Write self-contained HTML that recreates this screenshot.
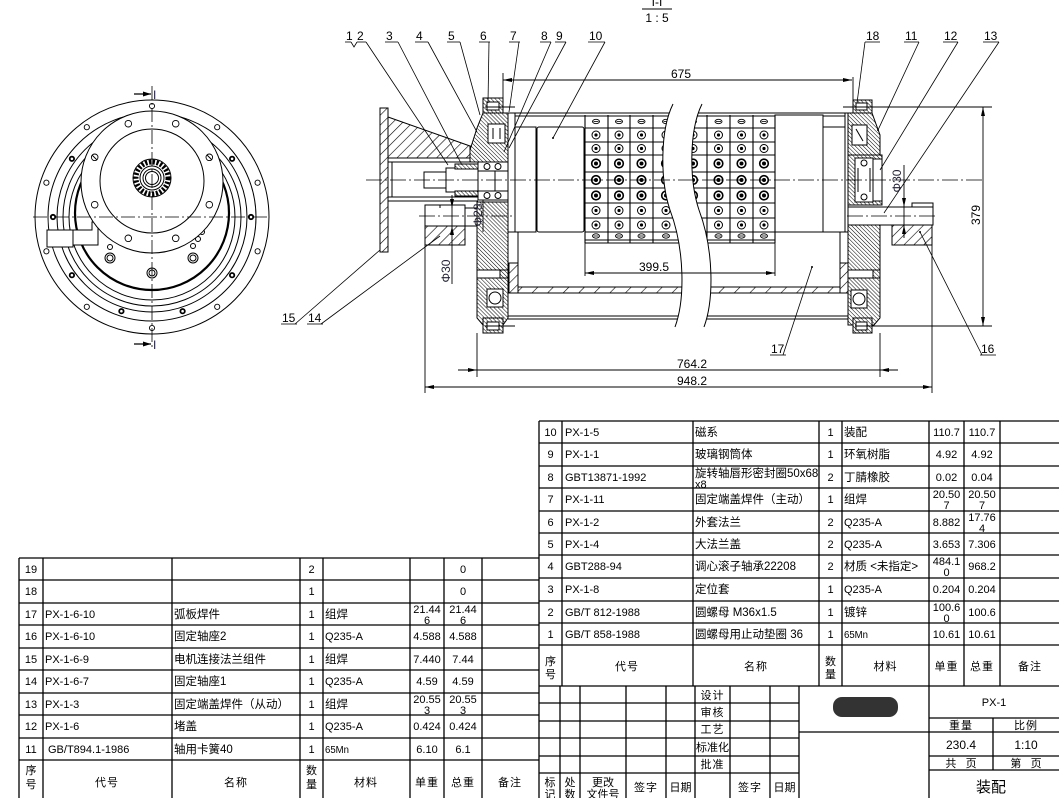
<!DOCTYPE html>
<html><head><meta charset="utf-8">
<style>
html,body{margin:0;padding:0;background:#fff;}
svg{display:block;}
text{font-family:"Liberation Sans","Noto Sans CJK SC",sans-serif;fill:#000;}
.c{text-anchor:middle;}
.t{font-size:11px;}
.z{font-size:11.5px;}
.s{font-size:10.5px;}
</style></head><body>
<svg width="1059" height="798" viewBox="0 0 1059 798" xmlns="http://www.w3.org/2000/svg">
<defs>
<pattern id="h1" patternUnits="userSpaceOnUse" width="7" height="7" patternTransform="rotate(45)"><rect width="7" height="7" fill="#fff"/><line x1="0" y1="0" x2="0" y2="7" stroke="#000" stroke-width="1.2"/></pattern>
<pattern id="h2" patternUnits="userSpaceOnUse" width="2.8" height="2.8" patternTransform="rotate(-45)"><rect width="2.8" height="2.8" fill="#fff"/><line x1="0" y1="0" x2="0" y2="2.8" stroke="#000" stroke-width="1"/></pattern>
<pattern id="h3" patternUnits="userSpaceOnUse" width="11" height="11" patternTransform="rotate(45)"><rect width="11" height="11" fill="#fff"/><line x1="0" y1="0" x2="0" y2="11" stroke="#000" stroke-width="1.2"/></pattern>
<g id="c1"><ellipse rx="3.5" ry="2.2" fill="none" stroke="#000" stroke-width="0.9"/><line x1="-2.5" y1="0" x2="2.5" y2="0" stroke="#000" stroke-width="0.8"/></g>
<g id="c2"><circle r="4" fill="none" stroke="#000" stroke-width="1"/><circle r="1.6" fill="#000"/></g>
<g id="c3"><circle r="4.3" fill="none" stroke="#000" stroke-width="1.6"/><circle r="2" fill="#000"/></g>
</defs>
<rect width="1059" height="798" fill="#fff"/>

<!-- ================= CIRCLE VIEW ================= -->
<g stroke="#000" fill="none" stroke-width="1">
 <circle cx="152" cy="217" r="117"/>
 <circle cx="152" cy="217" r="104"/>
 <circle cx="152" cy="217" r="95"/>
 <circle cx="152" cy="217" r="89"/>
 <circle cx="152" cy="217" r="83"/>
 <g stroke-width="0.9">
  <circle cx="152" cy="106" r="2.6"/><circle cx="217.2" cy="127.2" r="2.6"/><circle cx="257.6" cy="182.7" r="2.6"/><circle cx="257.6" cy="251.3" r="2.6"/><circle cx="217.2" cy="306.8" r="2.6"/><circle cx="152" cy="328" r="2.6"/><circle cx="86.8" cy="306.8" r="2.6"/><circle cx="46.4" cy="251.3" r="2.6"/><circle cx="46.4" cy="182.7" r="2.6"/><circle cx="86.8" cy="127.2" r="2.6"/>
 </g>
 <g stroke-width="1.8">
  <circle cx="251" cy="217" r="2.2"/><circle cx="232.1" cy="158.8" r="2.2"/><circle cx="71.9" cy="158.8" r="2.2"/><circle cx="53" cy="217" r="2.2"/><circle cx="71.9" cy="275.2" r="2.2"/><circle cx="121.4" cy="311.2" r="2.2"/><circle cx="182.6" cy="311.2" r="2.2"/><circle cx="232.1" cy="275.2" r="2.2"/>
 </g>
 <circle cx="152" cy="213" r="77" stroke-width="2.2"/>
 <circle cx="110" cy="247" r="2.5"/>
 <circle cx="110" cy="258" r="5"/><circle cx="110" cy="258" r="3"/>
 <circle cx="193" cy="258" r="5"/><circle cx="193" cy="258" r="3"/>
 <circle cx="152" cy="273" r="5"/><circle cx="152" cy="273" r="3"/>
 <circle cx="193" cy="246" r="2.5"/><circle cx="198" cy="239" r="2.5"/><circle cx="202" cy="232" r="2.5"/>
 <path d="M47,230 H92 V222 H98 V245 H73 V247 H47 Z" fill="#fff"/>
 <line x1="73" y1="230" x2="73" y2="245"/>
 <circle cx="152" cy="182" r="71" fill="#fff"/>
 <g stroke-width="0.9">
  <circle cx="209.3" cy="157.3" r="3.3"/><circle cx="175.7" cy="123.7" r="3.3"/><circle cx="128.3" cy="123.7" r="3.3"/><circle cx="94.7" cy="157.3" r="3.3"/><circle cx="94.7" cy="204.7" r="3.3"/><circle cx="128.3" cy="238.3" r="3.3"/><circle cx="175.7" cy="238.3" r="3.3"/><circle cx="209.3" cy="204.7" r="3.3"/>
  <line x1="92" y1="155" x2="97" y2="160"/><line x1="207" y1="155" x2="212" y2="160"/>
 </g>
 <circle cx="152" cy="181" r="52"/>
 <circle cx="152" cy="178" r="19"/>
 <circle cx="152" cy="178" r="16" stroke-width="5" stroke-dasharray="2.2 1.6"/>
 <circle cx="152" cy="178" r="12" fill="#fff"/>
 <circle cx="152" cy="178" r="9"/>
 <circle cx="152" cy="178" r="6.5"/>
 <g stroke-width="0.8" stroke-dasharray="14 3 2 3">
  <line x1="33" y1="217" x2="269" y2="217"/>
  <line x1="152" y1="86" x2="152" y2="349"/>
 </g>
 <line x1="134" y1="94" x2="151" y2="94" stroke-width="1.2"/>
 <line x1="134" y1="344" x2="151" y2="344" stroke-width="1.2"/>
</g>
<polygon points="143,91.5 151,94 143,96.5" fill="#000"/>
<polygon points="143,341.5 151,344 143,346.5" fill="#000"/>
<text x="153" y="99" font-size="12" style="fill:#224">I</text>
<text x="153" y="349" font-size="12" style="fill:#224">I</text>

<!-- ================= SECTION VIEW ================= -->
<text x="657" y="6" class="c" font-size="12">I-I</text>
<line x1="642" y1="9" x2="672" y2="9" stroke="#000" stroke-width="1"/>
<text x="657" y="22" class="c" font-size="12">1 : 5</text>

<g stroke="#000" stroke-width="1" fill="none">
 <!-- motor flange 15 -->
 <rect x="380" y="108" width="8" height="144" fill="url(#h1)"/>
 <path d="M388,117 L470,146 L470,158 L388,158 Z" fill="url(#h1)"/>
 <rect x="470" y="146" width="8" height="12" fill="#fff"/>
 <line x1="388" y1="158" x2="478" y2="158"/>
 <line x1="388" y1="162" x2="478" y2="162"/>
 <line x1="388" y1="197" x2="478" y2="197"/>
 <line x1="388" y1="201" x2="478" y2="201"/>
 <line x1="392" y1="162" x2="392" y2="197"/>
 <!-- motor shaft -->
 <rect x="424" y="172" width="22" height="16" fill="#fff"/>
 <rect x="446" y="168" width="32" height="24" fill="#fff"/>
 <rect x="455" y="164" width="23" height="5" fill="url(#h2)"/>
 <rect x="455" y="191" width="23" height="5" fill="url(#h2)"/>
 <line x1="446" y1="168" x2="446" y2="192"/>
 <!-- bearing seat 14 -->
 <rect x="425" y="205" width="40" height="40" fill="#fff"/>
 <rect x="425" y="226" width="40" height="19" fill="url(#h1)"/>
 <line x1="465" y1="208" x2="510" y2="208"/>
 <line x1="465" y1="226" x2="510" y2="226"/>
 <line x1="440" y1="205" x2="440" y2="208"/><line x1="452" y1="205" x2="452" y2="208"/>
 <!-- left end cap -->
 <rect x="483" y="98" width="20" height="15" fill="url(#h2)"/>
 <rect x="487" y="102" width="12" height="8" fill="#fff"/>
 <path d="M470,150 L477,128 L483,113 L508,113 L508,162 L470,162 Z" fill="url(#h2)"/>
 <rect x="488" y="124" width="17" height="19" fill="#fff"/>
 <line x1="493" y1="128" x2="493" y2="139"/><line x1="500" y1="128" x2="500" y2="139"/>
 <rect x="478" y="162" width="30" height="9" fill="#fff"/>
 <rect x="478" y="191" width="30" height="9" fill="#fff"/>
 <circle cx="487" cy="166.5" r="3"/><circle cx="498" cy="166.5" r="3"/>
 <circle cx="487" cy="195.5" r="3"/><circle cx="498" cy="195.5" r="3"/>
 <rect x="495" y="171" width="20" height="20" fill="#fff"/>
 <path d="M477,202 L508,202 L508,270 L477,270 Z" fill="url(#h2)"/>
 <rect x="477" y="270" width="31" height="8" fill="#fff"/>
 <rect x="500" y="270" width="8" height="8" fill="url(#h2)"/>
 <path d="M477,278 L508,278 L508,318 L503,325 L483,325 L477,318 Z" fill="url(#h2)"/>
 <rect x="487" y="289" width="16" height="18" fill="#fff"/>
 <circle cx="495" cy="298" r="6"/>
 <rect x="483" y="318" width="20" height="15" fill="url(#h2)"/>
 <rect x="487" y="322" width="12" height="8" fill="#fff"/>
 <line x1="485" y1="107" x2="515" y2="107"/>
 <line x1="485" y1="326" x2="515" y2="326"/>
 <!-- drum -->
 <line x1="508" y1="113" x2="848" y2="113"/>
 <line x1="508" y1="116" x2="848" y2="116"/>
 <rect x="508" y="113" width="7" height="119" fill="#fff"/>
 <rect x="515" y="127" width="21" height="105" fill="#fff"/>
 <rect x="537" y="127" width="47" height="105" rx="2" fill="#fff"/>
 <rect x="775" y="115" width="48" height="117" fill="#fff"/>
 <rect x="823" y="127" width="22" height="105" fill="#fff"/>
 <rect x="845" y="113" width="3" height="119" fill="#fff"/>
 <line x1="518" y1="232" x2="518" y2="293"/>
 <rect x="509" y="263" width="9" height="30" fill="url(#h1)"/>
 <line x1="840" y1="232" x2="840" y2="293"/>
 <rect x="840" y="263" width="8" height="30" fill="url(#h1)"/>
 <rect x="518" y="287" width="322" height="6" fill="url(#h3)"/>
 <line x1="508" y1="316" x2="848" y2="316"/>
 <line x1="508" y1="319" x2="848" y2="319"/>
 <!-- grid -->
 <g stroke-width="1.1">
  <line x1="585" y1="115" x2="585" y2="243"/><line x1="608" y1="115" x2="608" y2="243"/><line x1="630" y1="115" x2="630" y2="243"/><line x1="653" y1="115" x2="653" y2="243"/><line x1="679" y1="115" x2="679" y2="243"/><line x1="707" y1="115" x2="707" y2="243"/><line x1="730" y1="115" x2="730" y2="243"/><line x1="753" y1="115" x2="753" y2="243"/><line x1="775" y1="115" x2="775" y2="243"/>
  <line x1="585" y1="128" x2="775" y2="128"/><line x1="585" y1="142" x2="775" y2="142"/><line x1="585" y1="155" x2="775" y2="155"/><line x1="585" y1="172" x2="775" y2="172"/><line x1="585" y1="188" x2="775" y2="188"/><line x1="585" y1="203" x2="775" y2="203"/><line x1="585" y1="218" x2="775" y2="218"/><line x1="585" y1="232" x2="775" y2="232"/><line x1="585" y1="243" x2="775" y2="243"/><line x1="585" y1="240" x2="775" y2="240"/>
 </g>
</g>
<g>
 <g transform="translate(0,121.5)"><use href="#c1" x="596"/><use href="#c1" x="619"/><use href="#c1" x="641.5"/><use href="#c1" x="666"/><use href="#c1" x="693"/><use href="#c1" x="718.5"/><use href="#c1" x="741.5"/><use href="#c1" x="764"/></g>
 <g transform="translate(0,135)"><use href="#c2" x="596"/><use href="#c2" x="619"/><use href="#c2" x="641.5"/><use href="#c2" x="666"/><use href="#c2" x="693"/><use href="#c2" x="718.5"/><use href="#c2" x="741.5"/><use href="#c2" x="764"/></g>
 <g transform="translate(0,148.5)"><use href="#c2" x="596"/><use href="#c2" x="619"/><use href="#c2" x="641.5"/><use href="#c2" x="666"/><use href="#c2" x="693"/><use href="#c2" x="718.5"/><use href="#c2" x="741.5"/><use href="#c2" x="764"/></g>
 <g transform="translate(0,163.5)"><use href="#c3" x="596"/><use href="#c3" x="619"/><use href="#c3" x="641.5"/><use href="#c3" x="666"/><use href="#c3" x="693"/><use href="#c3" x="718.5"/><use href="#c3" x="741.5"/><use href="#c3" x="764"/></g>
 <g transform="translate(0,180)"><use href="#c3" x="596"/><use href="#c3" x="619"/><use href="#c3" x="641.5"/><use href="#c3" x="666"/><use href="#c3" x="693"/><use href="#c3" x="718.5"/><use href="#c3" x="741.5"/><use href="#c3" x="764"/></g>
 <g transform="translate(0,195.5)"><use href="#c3" x="596"/><use href="#c3" x="619"/><use href="#c3" x="641.5"/><use href="#c3" x="666"/><use href="#c3" x="693"/><use href="#c3" x="718.5"/><use href="#c3" x="741.5"/><use href="#c3" x="764"/></g>
 <g transform="translate(0,210.5)"><use href="#c2" x="596"/><use href="#c2" x="619"/><use href="#c2" x="641.5"/><use href="#c2" x="666"/><use href="#c2" x="693"/><use href="#c2" x="718.5"/><use href="#c2" x="741.5"/><use href="#c2" x="764"/></g>
 <g transform="translate(0,225)"><use href="#c2" x="596"/><use href="#c2" x="619"/><use href="#c2" x="641.5"/><use href="#c2" x="666"/><use href="#c2" x="693"/><use href="#c2" x="718.5"/><use href="#c2" x="741.5"/><use href="#c2" x="764"/></g>
 <g transform="translate(0,236)"><use href="#c1" x="596"/><use href="#c1" x="619"/><use href="#c1" x="641.5"/><use href="#c1" x="666"/><use href="#c1" x="693"/><use href="#c1" x="718.5"/><use href="#c1" x="741.5"/><use href="#c1" x="764"/></g>
</g>
<!-- break -->
<path d="M673,104 C660,130 660,180 670,210 C685,250 685,300 675,327 L704,327 C714,300 714,250 699,210 C689,180 689,130 702,104 Z" fill="#fff"/>
<g stroke="#000" stroke-width="1" fill="none">
 <path d="M673,104 C660,130 660,180 670,210 C685,250 685,300 675,327"/>
 <path d="M702,104 C689,130 689,180 699,210 C714,250 714,300 704,327"/>
 <!-- right end cap -->
 <rect x="853" y="100" width="19" height="13" fill="url(#h2)"/>
 <rect x="856" y="103" width="11" height="7" fill="#fff"/>
 <path d="M848,113 L872,113 L880,135 L880,155 L848,155 Z" fill="url(#h2)"/>
 <rect x="852" y="125" width="15" height="20" fill="#fff"/>
 <line x1="856" y1="129" x2="863" y2="141"/>
 <rect x="848" y="155" width="34" height="50" fill="url(#h2)"/>
 <rect x="855" y="158" width="18" height="44" fill="#fff"/>
 <rect x="873" y="159" width="9" height="42" fill="#fff"/>
 <circle cx="864" cy="163" r="3"/><circle cx="864" cy="197" r="3"/>
 <line x1="858" y1="168" x2="858" y2="192"/><line x1="870" y1="168" x2="870" y2="192"/>
 <rect x="848" y="207" width="85" height="18" fill="#fff"/>
 <rect x="912" y="203" width="21" height="4" fill="#fff"/>
 <rect x="892" y="225" width="40" height="20" fill="url(#h1)"/>
 <path d="M848,225 L880,225 L880,270 L848,270 Z" fill="url(#h2)"/>
 <rect x="848" y="270" width="32" height="8" fill="#fff"/>
 <rect x="873" y="270" width="7" height="8" fill="url(#h2)"/>
 <path d="M848,278 L880,278 L880,318 L874,325 L848,325 Z" fill="url(#h2)"/>
 <rect x="851" y="290" width="16" height="18" fill="#fff"/>
 <circle cx="859" cy="299" r="6"/>
 <rect x="853" y="318" width="19" height="15" fill="url(#h2)"/>
 <rect x="856" y="322" width="11" height="8" fill="#fff"/>
 <!-- center lines -->
 <g stroke-width="0.8" stroke-dasharray="16 3 2 3">
  <line x1="366" y1="180" x2="985" y2="180"/>
  <line x1="419" y1="216" x2="512" y2="216"/>
  <line x1="847" y1="216" x2="938" y2="216"/>
 </g>
 <!-- dimension / extension lines -->
 <g stroke-width="0.9">
  <line x1="503" y1="80" x2="852" y2="80"/>
  <line x1="503" y1="73" x2="503" y2="108"/>
  <line x1="853" y1="77" x2="853" y2="110"/>
  <line x1="585" y1="273" x2="775" y2="273"/>
  <line x1="585" y1="243" x2="585" y2="276"/>
  <line x1="775" y1="232" x2="775" y2="276"/>
  <line x1="458" y1="370" x2="898" y2="370"/>
  <line x1="477" y1="333" x2="477" y2="377"/>
  <line x1="880" y1="333" x2="880" y2="377"/>
  <line x1="425" y1="387" x2="932" y2="387"/>
  <line x1="425" y1="245" x2="425" y2="393"/>
  <line x1="932" y1="245" x2="932" y2="393"/>
  <line x1="983" y1="107" x2="983" y2="326"/>
  <line x1="843" y1="107" x2="992" y2="107"/>
  <line x1="855" y1="326" x2="992" y2="326"/>
  <line x1="452" y1="195" x2="452" y2="284"/>
  <line x1="904" y1="165" x2="904" y2="238"/>
  <line x1="483" y1="200" x2="483" y2="232"/>
 </g>
 <!-- leaders -->
 <g stroke-width="0.8">
  <line x1="345" y1="42" x2="351" y2="42"/><polyline points="351,42 354,47 357,42"/><line x1="357" y1="42" x2="366" y2="42"/>
  <line x1="366" y1="42" x2="448" y2="165"/>
  <line x1="385" y1="42" x2="398" y2="42"/><line x1="398" y1="42" x2="462" y2="165"/>
  <line x1="415" y1="42" x2="428" y2="42"/><line x1="428" y1="42" x2="477" y2="132"/>
  <line x1="447" y1="42" x2="460" y2="42"/><line x1="460" y1="42" x2="480" y2="115"/>
  <line x1="479" y1="42" x2="490" y2="42"/><line x1="489" y1="42" x2="488" y2="103"/>
  <line x1="509" y1="42" x2="520" y2="42"/><line x1="519" y1="42" x2="509" y2="112"/>
  <line x1="540" y1="42" x2="551" y2="42"/><line x1="551" y1="42" x2="504" y2="152"/>
  <line x1="555" y1="42" x2="566" y2="42"/><line x1="566" y1="42" x2="509" y2="148"/>
  <line x1="588" y1="42" x2="605" y2="42"/><line x1="605" y1="42" x2="553" y2="138"/>
  <line x1="865" y1="42" x2="880" y2="42"/><line x1="865" y1="42" x2="857" y2="103"/>
  <line x1="904" y1="42" x2="919" y2="42"/><line x1="919" y1="42" x2="878" y2="130"/>
  <line x1="943" y1="42" x2="958" y2="42"/><line x1="958" y1="42" x2="880" y2="170"/>
  <line x1="983" y1="42" x2="999" y2="42"/><line x1="999" y1="42" x2="884" y2="213"/>
  <line x1="980" y1="355" x2="996" y2="355"/><line x1="982" y1="355" x2="920" y2="232"/>
  <line x1="770" y1="355" x2="786" y2="355"/><line x1="783" y1="355" x2="812" y2="267"/>
  <line x1="281" y1="324" x2="297" y2="324"/><line x1="295" y1="324" x2="380" y2="250"/>
  <line x1="307" y1="324" x2="323" y2="324"/><line x1="321" y1="324" x2="440" y2="236"/>
 </g>
</g>
<g fill="#000">
 <polygon points="503,80 512,78 512,82"/><polygon points="852,80 843,78 843,82"/>
 <polygon points="585,273 594,271 594,275"/><polygon points="775,273 766,271 766,275"/>
 <polygon points="477,370 468,368 468,372"/><polygon points="880,370 889,368 889,372"/>
 <polygon points="425,387 434,385 434,389"/><polygon points="932,387 923,385 923,389"/>
 <polygon points="983,107 981,116 985,116"/><polygon points="983,326 981,317 985,317"/>
 <polygon points="452,208 450,199 454,199"/><polygon points="452,226 450,235 454,235"/>
 <polygon points="904,207 902,198 906,198"/><polygon points="904,225 902,234 906,234"/>
 <circle cx="553" cy="138" r="1"/><circle cx="812" cy="267" r="1"/><circle cx="920" cy="232" r="1"/><circle cx="878" cy="130" r="1"/>
</g>
<g font-size="12">
 <text x="346" y="40">1</text><text x="357" y="40">2</text>
 <text x="386" y="40">3</text><text x="416" y="40">4</text><text x="448" y="40">5</text>
 <text x="480" y="40">6</text><text x="510" y="40">7</text><text x="541" y="40">8</text>
 <text x="556" y="40">9</text><text x="589" y="40">10</text>
 <text x="866" y="40">18</text><text x="905" y="40">11</text><text x="944" y="40">12</text><text x="984" y="40">13</text>
 <text x="981" y="353">16</text><text x="771" y="353">17</text>
 <text x="282" y="322">15</text><text x="308" y="322">14</text>
 <text x="681" y="78" class="c">675</text>
 <text x="654" y="271" class="c">399.5</text>
 <text x="692" y="368" class="c">764.2</text>
 <text x="692" y="385" class="c">948.2</text>
 <text transform="translate(983,215) rotate(-90)" class="c" y="-3">379</text>
 <text transform="translate(482,215) rotate(-90)" class="c" style="fill:#223">Φ28</text>
 <text transform="translate(452,271) rotate(-90)" class="c" y="-2" style="fill:#223">Φ30</text>
 <text transform="translate(903,181) rotate(-90)" class="c" y="-2" style="fill:#223">Φ30</text>
</g>

<!-- ================= TABLES ================= -->
<g stroke="#000" stroke-width="1.3" fill="none">
 <!-- right table -->
 <path d="M539,421H1059M539,443H1059M539,466H1059M539,488H1059M539,511H1059M539,533H1059M539,555H1059M539,578H1059M539,601H1059M539,623H1059M539,645H1059M539,686H1059"/>
 <path d="M539,421V798M562,421V686M693,421V686M819,421V686M842,421V686M929,421V686M964,421V686M1000,421V686"/>
 <!-- left table -->
 <path d="M19,558H539M19,580H539M19,603H539M19,625H539M19,648H539M19,670H539M19,693H539M19,715H539M19,738H539M19,760H539"/>
 <path d="M19,558V798M43,558V798M172,558V798M300,558V798M323,558V798M410,558V798M444,558V798M482,558V798"/>
 <!-- title block -->
 <path d="M539,703H799M539,721H799M539,738H799M539,756H799M539,773H799"/>
 <path d="M560,686V798M580,686V798M626,686V798M666,686V798M695,686V798M730,686V798M770,686V798M799,686V798M929,686V798M993,718V770"/>
 <path d="M929,718H1059M929,732H1059M799,732H929M929,756H1059M929,770H1059"/>
</g>
<rect x="833" y="697" width="65" height="20" rx="9" fill="#333"/>

<!-- right table text -->
<g class="t">
 <text x="550.5" y="436" class="c">10</text><text x="565" y="436">PX-1-5</text><text x="695" y="436" class="z">磁系</text><text x="830.5" y="436" class="c">1</text><text x="844" y="436" class="z">装配</text><text x="946.5" y="436" class="c">110.7</text><text x="982" y="436" class="c">110.7</text>
 <text x="550.5" y="458" class="c">9</text><text x="565" y="458">PX-1-1</text><text x="695" y="458" class="z">玻璃钢筒体</text><text x="830.5" y="458" class="c">1</text><text x="844" y="458" class="z">环氧树脂</text><text x="946.5" y="458" class="c">4.92</text><text x="982" y="458" class="c">4.92</text>
 <text x="550.5" y="481" class="c">8</text><text x="565" y="481">GBT13871-1992</text><text x="695" y="477" class="z">旋转轴唇形密封圈50x68</text><text x="695" y="488">x8</text><text x="830.5" y="481" class="c">2</text><text x="844" y="481" class="z">丁腈橡胶</text><text x="946.5" y="481" class="c">0.02</text><text x="982" y="481" class="c">0.04</text>
 <text x="550.5" y="503" class="c">7</text><text x="565" y="503">PX-1-11</text><text x="695" y="503" class="z">固定端盖焊件（主动）</text><text x="830.5" y="503" class="c">1</text><text x="844" y="503" class="z">组焊</text><text x="946.5" y="498" class="c">20.50</text><text x="946.5" y="509" class="c">7</text><text x="982" y="498" class="c">20.50</text><text x="982" y="509" class="c">7</text>
 <text x="550.5" y="526" class="c">6</text><text x="565" y="526">PX-1-2</text><text x="695" y="526" class="z">外套法兰</text><text x="830.5" y="526" class="c">2</text><text x="844" y="526">Q235-A</text><text x="946.5" y="526" class="c">8.882</text><text x="982" y="521" class="c">17.76</text><text x="982" y="532" class="c">4</text>
 <text x="550.5" y="548" class="c">5</text><text x="565" y="548">PX-1-4</text><text x="695" y="548" class="z">大法兰盖</text><text x="830.5" y="548" class="c">2</text><text x="844" y="548">Q235-A</text><text x="946.5" y="548" class="c">3.653</text><text x="982" y="548" class="c">7.306</text>
 <text x="550.5" y="570" class="c">4</text><text x="565" y="570">GBT288-94</text><text x="695" y="570" class="z">调心滚子轴承22208</text><text x="830.5" y="570" class="c">2</text><text x="844" y="570" class="z">材质 &lt;未指定&gt;</text><text x="946.5" y="565" class="c">484.1</text><text x="946.5" y="576" class="c">0</text><text x="982" y="570" class="c">968.2</text>
 <text x="550.5" y="593" class="c">3</text><text x="565" y="593">PX-1-8</text><text x="695" y="593" class="z">定位套</text><text x="830.5" y="593" class="c">1</text><text x="844" y="593">Q235-A</text><text x="946.5" y="593" class="c">0.204</text><text x="982" y="593" class="c">0.204</text>
 <text x="550.5" y="616" class="c">2</text><text x="565" y="616">GB/T 812-1988</text><text x="695" y="616" class="z">圆螺母 M36x1.5</text><text x="830.5" y="616" class="c">1</text><text x="844" y="616" class="z">镀锌</text><text x="946.5" y="611" class="c">100.6</text><text x="946.5" y="622" class="c">0</text><text x="982" y="616" class="c">100.6</text>
 <text x="550.5" y="638" class="c">1</text><text x="565" y="638">GB/T 858-1988</text><text x="695" y="638" class="z">圆螺母用止动垫圈 36</text><text x="830.5" y="638" class="c">1</text><text x="844" y="638" font-size="10" textLength="24" lengthAdjust="spacingAndGlyphs">65Mn</text><text x="946.5" y="638" class="c">10.61</text><text x="982" y="638" class="c">10.61</text>
 <text x="550.5" y="665" class="c">序</text><text x="550.5" y="678" class="c">号</text>
 <text x="627" y="670" class="c" letter-spacing="1">代号</text><text x="756" y="670" class="c" letter-spacing="1">名称</text>
 <text x="830.5" y="665" class="c">数</text><text x="830.5" y="678" class="c">量</text>
 <text x="885.5" y="670" class="c" letter-spacing="1">材料</text><text x="946.5" y="670" class="c" letter-spacing="1">单重</text><text x="982" y="670" class="c" letter-spacing="1">总重</text><text x="1030" y="670" class="c" letter-spacing="1">备注</text>
</g>

<!-- left table text -->
<g class="t">
 <text x="31" y="573" class="c">19</text><text x="311.5" y="573" class="c">2</text><text x="463" y="573" class="c">0</text>
 <text x="31" y="595" class="c">18</text><text x="311.5" y="595" class="c">1</text><text x="463" y="595" class="c">0</text>
 <text x="31" y="618" class="c">17</text><text x="45" y="618">PX-1-6-10</text><text x="174" y="618" class="z">弧板焊件</text><text x="311.5" y="618" class="c">1</text><text x="325" y="618" class="z">组焊</text><text x="427" y="613" class="c">21.44</text><text x="427" y="624" class="c">6</text><text x="463" y="613" class="c">21.44</text><text x="463" y="624" class="c">6</text>
 <text x="31" y="640" class="c">16</text><text x="45" y="640">PX-1-6-10</text><text x="174" y="640" class="z">固定轴座2</text><text x="311.5" y="640" class="c">1</text><text x="325" y="640">Q235-A</text><text x="427" y="640" class="c">4.588</text><text x="463" y="640" class="c">4.588</text>
 <text x="31" y="663" class="c">15</text><text x="45" y="663">PX-1-6-9</text><text x="174" y="663" class="z">电机连接法兰组件</text><text x="311.5" y="663" class="c">1</text><text x="325" y="663" class="z">组焊</text><text x="427" y="663" class="c">7.440</text><text x="463" y="663" class="c">7.44</text>
 <text x="31" y="685" class="c">14</text><text x="45" y="685">PX-1-6-7</text><text x="174" y="685" class="z">固定轴座1</text><text x="311.5" y="685" class="c">1</text><text x="325" y="685">Q235-A</text><text x="427" y="685" class="c">4.59</text><text x="463" y="685" class="c">4.59</text>
 <text x="31" y="708" class="c">13</text><text x="45" y="708">PX-1-3</text><text x="174" y="708" class="z">固定端盖焊件（从动）</text><text x="311.5" y="708" class="c">1</text><text x="325" y="708" class="z">组焊</text><text x="427" y="703" class="c">20.55</text><text x="427" y="714" class="c">3</text><text x="463" y="703" class="c">20.55</text><text x="463" y="714" class="c">3</text>
 <text x="31" y="730" class="c">12</text><text x="45" y="730">PX-1-6</text><text x="174" y="730" class="z">堵盖</text><text x="311.5" y="730" class="c">1</text><text x="325" y="730">Q235-A</text><text x="427" y="730" class="c">0.424</text><text x="463" y="730" class="c">0.424</text>
 <text x="31" y="753" class="c">11</text><text x="48" y="753">GB/T894.1-1986</text><text x="174" y="753" class="z">轴用卡簧40</text><text x="311.5" y="753" class="c">1</text><text x="325" y="753" font-size="10" textLength="24" lengthAdjust="spacingAndGlyphs">65Mn</text><text x="427" y="753" class="c">6.10</text><text x="463" y="753" class="c">6.1</text>
 <text x="31" y="774" class="c">序</text><text x="31" y="788" class="c">号</text>
 <text x="107" y="786" class="c" letter-spacing="1">代号</text><text x="236" y="786" class="c" letter-spacing="1">名称</text>
 <text x="311.5" y="774" class="c">数</text><text x="311.5" y="788" class="c">量</text>
 <text x="366" y="786" class="c" letter-spacing="1">材料</text><text x="427" y="786" class="c" letter-spacing="1">单重</text><text x="463" y="786" class="c" letter-spacing="1">总重</text><text x="510" y="786" class="c" letter-spacing="1">备注</text>
</g>

<!-- title block text -->
<g class="t">
 <text x="712.5" y="699" class="c" letter-spacing="1">设计</text>
 <text x="712.5" y="716" class="c" letter-spacing="1">审核</text>
 <text x="712.5" y="733" class="c" letter-spacing="1">工艺</text>
 <text x="712.5" y="751" class="c">标准化</text>
 <text x="712.5" y="768" class="c" letter-spacing="1">批准</text>
 <text x="550" y="786" class="c">标</text><text x="550" y="798" class="c">记</text>
 <text x="570" y="786" class="c">处</text><text x="570" y="798" class="c">数</text>
 <text x="603" y="786" class="c">更改</text><text x="603" y="798" class="c">文件号</text>
 <text x="646" y="791" class="c" letter-spacing="1">签字</text>
 <text x="680.5" y="791" class="c">日期</text>
 <text x="750" y="791" class="c" letter-spacing="1">签字</text>
 <text x="784.5" y="791" class="c">日期</text>
 <text x="994" y="706" class="c">PX-1</text>
 <text x="961" y="729" class="c" letter-spacing="1">重量</text>
 <text x="1026" y="729" class="c" letter-spacing="1">比例</text>
 <text x="961" y="749" class="c" font-size="12">230.4</text>
 <text x="1026" y="749" class="c" font-size="12">1:10</text>
 <text x="961" y="767" class="c" xml:space="preserve">共   页</text>
 <text x="1026" y="767" class="c" xml:space="preserve">第   页</text>
 <text x="991" y="792" class="c" font-size="15">装配</text>
</g>
</svg>
</body></html>
